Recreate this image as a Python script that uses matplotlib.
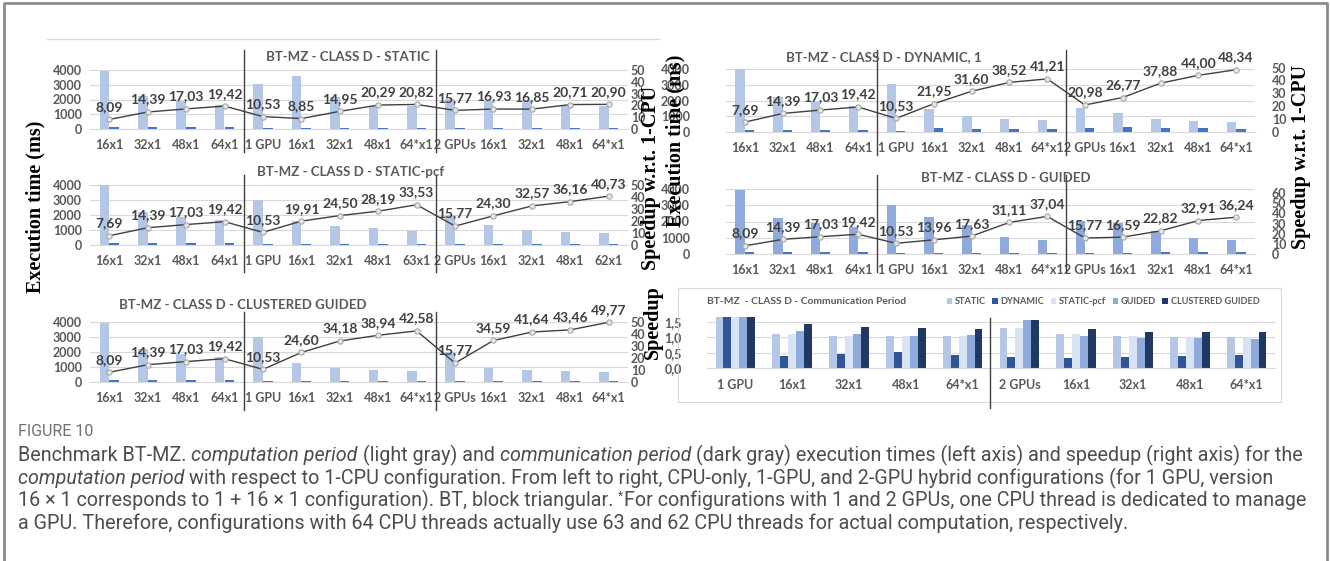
import numpy as np
import matplotlib
matplotlib.use('Agg')
import matplotlib.pyplot as plt
from matplotlib.lines import Line2D
from matplotlib.patches import Rectangle

W, H = 1330, 561

# category labels
labels_main = ['16x1', '32x1', '48x1', '64x1', '1 GPU', '16x1', '32x1', '48x1', '64*x1',
               '2 GPUs', '16x1', '32x1', '48x1', '64*x1']
labels_pcf = ['16x1', '32x1', '48x1', '64x1', '1 GPU', '16x1', '32x1', '48x1', '63x1',
              '2 GPUs', '16x1', '32x1', '48x1', '62x1']
labels_comm = ['1 GPU', '16x1', '32x1', '48x1', '64*x1', '2 GPUs', '16x1', '32x1', '48x1', '64*x1']

# STATIC
static_comp = [3950, 2220, 1880, 1650, 3030, 3600, 2140, 1580, 1540, 2030, 1890, 1900, 1550, 1530]
static_comm = [110, 110, 110, 110, 60, 100, 95, 95, 95, 60, 90, 95, 95, 95]
static_speedup = [8.09, 14.39, 17.03, 19.42, 10.53, 8.85, 14.95, 20.29, 20.82, 15.77, 16.93, 16.85, 20.71, 20.90]

# STATIC-pcf
pcf_comp = [4000, 2220, 1880, 1650, 3030, 1610, 1300, 1130, 950, 2030, 1310, 980, 880, 790]
pcf_comm = [110, 110, 110, 110, 60, 95, 95, 95, 95, 75, 90, 95, 95, 95]
pcf_speedup = [7.69, 14.39, 17.03, 19.42, 10.53, 19.91, 24.50, 28.19, 33.53, 15.77, 24.30, 32.57, 36.16, 40.73]

# CLUSTERED GUIDED
clustered_comp = [3950, 2220, 1880, 1650, 3030, 1300, 940, 820, 750, 2030, 920, 770, 740, 640]
clustered_comm = [110, 110, 110, 110, 60, 70, 75, 75, 75, 60, 80, 80, 80, 80]
clustered_speedup = [8.09, 14.39, 17.03, 19.42, 10.53, 24.60, 34.18, 38.94, 42.58, 15.77, 34.59, 41.64, 43.46, 49.77]

# DYNAMIC, 1
dynamic_comp = [4000, 2220, 1880, 1650, 3030, 1460, 1010, 830, 780, 1530, 1200, 845, 730, 660]
dynamic_comm = [110, 110, 110, 110, 60, 260, 210, 190, 220, 250, 290, 280, 250, 220]
dynamic_speedup = [7.69, 14.39, 17.03, 19.42, 10.53, 21.95, 31.60, 38.52, 41.21, 20.98, 26.77, 37.88, 44.00, 48.34]

# GUIDED
guided_comp = [3950, 2220, 1880, 1650, 3030, 2290, 1810, 1030, 860, 2030, 1930, 1400, 970, 880]
guided_comm = [110, 110, 110, 110, 60, 80, 90, 90, 90, 60, 90, 100, 100, 100]
guided_speedup = [8.09, 14.39, 17.03, 19.42, 10.53, 13.96, 17.63, 31.11, 37.04, 15.77, 16.59, 22.82, 32.91, 36.24]

# communication period speedup
comm_series = ['STATIC', 'DYNAMIC', 'STATIC-pcf', 'GUIDED', 'CLUSTERED GUIDED']
comm_static = [1.65, 1.10, 1.04, 1.03, 1.03, 1.31, 1.11, 1.03, 1.01, 1.01]
comm_dynamic = [1.65, 0.38, 0.47, 0.51, 0.44, 0.35, 0.33, 0.35, 0.38, 0.43]
comm_pcf = [1.65, 1.10, 1.04, 1.03, 1.03, 1.31, 1.11, 1.03, 1.01, 1.01]
comm_guided = [1.65, 1.21, 1.11, 1.04, 1.08, 1.57, 1.05, 0.99, 0.98, 0.95]
comm_clustered = [1.65, 1.45, 1.33, 1.31, 1.27, 1.57, 1.26, 1.19, 1.19, 1.16]
comm_colors = ['#b4c7e7', '#2f5597', '#dae3f3', '#8faadc', '#203864']

plt.rcParams['font.family'] = ['Lato', 'DejaVu Sans']
GRID = '#d9d9d9'
TXT = '#595959'

fig = plt.figure(figsize=(W / 100, H / 100), dpi=100)


def fx(x):
    return x / W


def fy(y):
    return 1 - y / H


def vline(x, y1, y2, color='#404040', lw=1.0):
    fig.add_artist(Line2D([fx(x), fx(x)], [fy(y1), fy(y2)], color=color, lw=lw))


def fmt(v):
    return f'{v:.2f}'.replace('.', ',')


def panel(box, cats, comp, comm, speedup, rmax, rticks, title, title_x, title_y,
          seps, sep_y, comp_color='#b4c7e7', lpad=6, rpad=2):
    left, right, y0, y4k = box
    f = 1.08
    top = y0 - (y0 - y4k) * f
    ax = fig.add_axes([fx(left), fy(y0), (right - left) / W, (y0 - top) / H])
    x = np.arange(len(cats))
    ax.bar(x - 0.125, comp, width=0.25, color=comp_color, zorder=2)
    ax.bar(x + 0.125, comm, width=0.25, color='#4472c4', zorder=2)
    ax.set_xlim(-0.5, len(cats) - 0.5)
    ax.set_ylim(0, 4000 * f)
    ax.set_yticks(range(0, 4001, 1000))
    ax.set_xticks(x)
    ax.set_xticklabels(cats)
    ax.grid(axis='y', color=GRID, lw=0.8, zorder=0)
    ax.set_axisbelow(True)
    for s in ['top', 'left', 'right']:
        ax.spines[s].set_visible(False)
    ax.spines['bottom'].set_color(GRID)
    ax.tick_params(axis='x', length=0, pad=7, labelsize=9, labelcolor=TXT)
    ax.tick_params(axis='y', length=0, pad=lpad, labelsize=9, labelcolor=TXT)
    for t in ax.get_xticklabels() + ax.get_yticklabels():
        t.set_fontweight('bold')

    ax2 = ax.twinx()
    ax2.set_ylim(0, rmax * f)
    ax2.set_yticks(rticks)
    for s in ['top', 'left', 'right', 'bottom']:
        ax2.spines[s].set_visible(False)
    ax2.tick_params(axis='y', length=0, pad=rpad, labelsize=9, labelcolor=TXT)
    for t in ax2.get_yticklabels():
        t.set_fontweight('bold')
    ax2.plot(x, speedup, color='#404040', lw=1.0, marker='o', ms=3.8,
             mfc='#e6e6e6', mec='#a6a6a6', mew=0.8, zorder=3)
    for xi, v in zip(x, speedup):
        ax2.annotate(fmt(v), (xi, v), xytext=(0, 9), textcoords='offset points',
                     ha='center', va='center', fontsize=10, fontweight='bold', color='#404040')

    fig.text(fx(title_x), fy(title_y), title, ha='center', va='center',
             fontsize=9.5, fontweight='bold', color=TXT)
    for sx in seps:
        vline(sx, sep_y[0], sep_y[1])
    return ax


# frame around the figure
fig.add_artist(Line2D([fx(4), fx(4), fx(1327), fx(1327)], [0, fy(3), fy(3), 0],
                      color='#8c8c8c', lw=2))
fig.add_artist(Line2D([fx(47), fx(659)], [fy(39), fy(39)], color=GRID, lw=1))

panel((90, 628, 129, 70), labels_main, static_comp, static_comm, static_speedup,
      50, range(0, 51, 10), 'BT-MZ - CLASS D - STATIC', 348, 57, [244, 436], (50, 152))
panel((90, 628, 245, 185), labels_pcf, pcf_comp, pcf_comm, pcf_speedup,
      50, range(0, 51, 10), 'BT-MZ - CLASS D - STATIC-pcf', 351, 172, [244, 436], (175, 272))
panel((90, 628, 382, 322), labels_main, clustered_comp, clustered_comm, clustered_speedup,
      50, range(0, 51, 10), 'BT-MZ - CLASS D - CLUSTERED GUIDED', 243, 305, [244, 436], (312, 410))
panel((726, 1255, 132, 69), labels_main, dynamic_comp, dynamic_comm, dynamic_speedup,
      48.9, range(0, 51, 10), 'BT-MZ - CLASS D - DYNAMIC, 1', 884, 57, [877, 1066], (50, 155),
      lpad=26, rpad=12)
panel((726, 1255, 254, 189), labels_main, guided_comp, guided_comm, guided_speedup,
      64, range(0, 61, 10), 'BT-MZ - CLASS D - GUIDED', 1006, 178, [877, 1066], (175, 272),
      comp_color='#8faadc', lpad=26, rpad=12)

# communication period chart
fig.add_artist(Rectangle((fx(678), fy(402)), (1281 - 678) / W, (402 - 288) / H,
                         transform=fig.transFigure, fill=False, ec=GRID, lw=0.8))
left, right, y0, y15 = 707, 1275, 368, 322
ymax = 1.75
top = y0 - (y0 - y15) * ymax / 1.5
axc = fig.add_axes([fx(left), fy(y0), (right - left) / W, (y0 - top) / H])
xc = np.arange(len(labels_comm))
bw = 0.14
comm_values = [comm_static, comm_dynamic, comm_pcf, comm_guided, comm_clustered]
for i, (vals, name, col) in enumerate(zip(comm_values, comm_series, comm_colors)):
    axc.bar(xc + (i - 2) * bw, vals, width=bw, color=col, label=name, zorder=2)
axc.set_xlim(-0.5, len(labels_comm) - 0.5)
axc.set_ylim(0, ymax)
axc.set_yticks([0, 0.5, 1.0, 1.5])
axc.set_yticklabels(['0,0', '0,5', '1,0', '1,5'])
axc.set_xticks(xc)
axc.set_xticklabels(labels_comm)
axc.grid(axis='y', color=GRID, lw=0.8)
axc.set_axisbelow(True)
for s in ['top', 'left', 'right']:
    axc.spines[s].set_visible(False)
axc.spines['bottom'].set_color(GRID)
axc.tick_params(axis='x', length=0, pad=8, labelsize=9, labelcolor=TXT)
axc.tick_params(axis='y', length=0, pad=18, labelsize=9, labelcolor=TXT)
for t in axc.get_xticklabels() + axc.get_yticklabels():
    t.set_fontweight('bold')
fig.text(fx(707), fy(302), 'BT-MZ  - CLASS D - Communication Period', ha='left', va='center',
         fontsize=7.4, fontweight='bold', color=TXT)
leg = fig.legend(*axc.get_legend_handles_labels(), loc='center right',
                 bbox_to_anchor=(fx(1264), fy(302)), ncol=5, frameon=False,
                 fontsize=6.6, handlelength=0.6, handleheight=0.6, handletextpad=0.3,
                 columnspacing=0.7, borderpad=0)
for t in leg.get_texts():
    t.set_color(TXT)
    t.set_fontweight('bold')
vline(990, 318, 408)

# axis titles
serif = dict(family='Liberation Serif', fontweight='bold', fontsize=14.5, color='black',
             rotation=90, ha='center', va='center')
fig.text(fx(35), fy(207), 'Execution time (ms)', **serif)
fig.text(fx(651), fy(178), 'Speedup w.r.t. 1-CPU', **serif)
fig.text(fx(675), fy(141), 'Execution time (ms)', **serif)
fig.text(fx(653), fy(322), 'Speedup', **serif)
fig.text(fx(1301), fy(157), 'Speedup w.r.t. 1-CPU', **serif)

# caption
renderer = fig.canvas.get_renderer()
cap_fs = 14.2
cap = dict(family='Roboto', fontsize=cap_fs, color='#4d4d4d')
fig.text(fx(18), fy(436), 'FIGURE 10', va='baseline', family='Roboto', fontsize=11.5,
         color='#707070')


def width_of(s, **kw):
    t = fig.text(0, 0, s, **kw)
    w = t.get_window_extent(renderer).width
    t.remove()
    return w


space = width_of('x x', **cap) - width_of('xx', **cap)

caption = [
    (461, [('Benchmark BT-MZ. ', 'n'), ('computation period', 'i'), (' (light gray) and ', 'n'),
           ('communication period', 'i'),
           (' (dark gray) execution times (left axis) and speedup (right axis) for the', 'n')]),
    (484, [('computation period', 'i'),
           (' with respect to 1-CPU configuration. From left to right, CPU-only, 1-GPU, and 2-GPU '
            'hybrid configurations (for 1 GPU, version', 'n')]),
    (506, [('16 \u00d7 1 corresponds to 1 + 16 \u00d7 1 configuration). BT, block triangular. ', 'n'),
           ('*', 'sup'),
           ('For configurations with 1 and 2 GPUs, one CPU thread is dedicated to manage', 'n')]),
    (529, [('a GPU. Therefore, configurations with 64 CPU threads actually use 63 and 62 CPU '
            'threads for actual computation, respectively.', 'n')]),
]
for y, segs in caption:
    x = 18
    for s, style in segs:
        if s.startswith(' '):
            x += space
        kw = dict(cap)
        yy = y
        if style == 'i':
            kw['style'] = 'italic'
        if style == 'sup':
            kw['fontsize'] = cap_fs * 0.6
            yy = y - 6
        t = fig.text(fx(x), fy(yy), s.strip(), va='baseline', **kw)
        x = t.get_window_extent(renderer).x1
        if s.endswith(' '):
            x += space

fig.savefig('out.png', dpi=100)
